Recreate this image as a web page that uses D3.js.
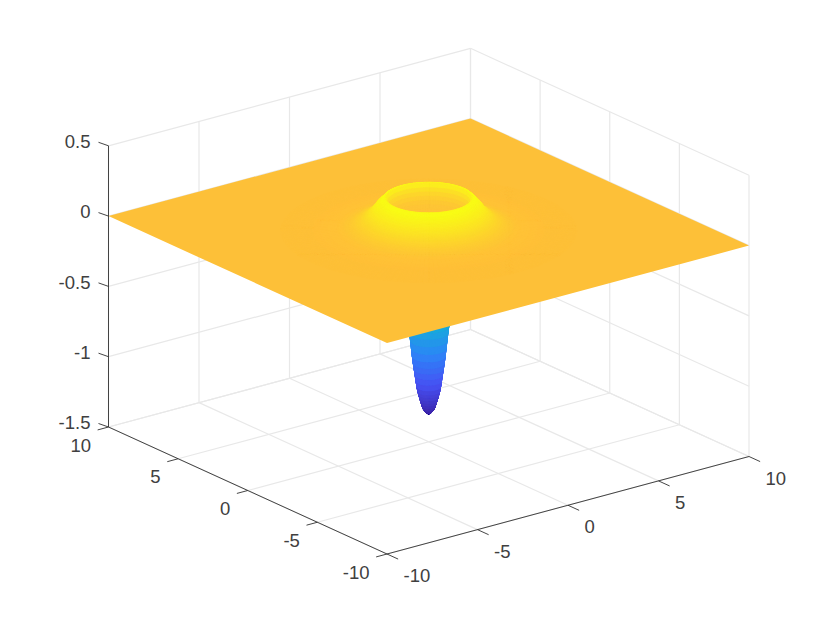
<!DOCTYPE html>
<html>
  <head>
    <script src="https://d3js.org/d3.v7.min.js"></script>
    <style>
      html, body { margin: 0; padding: 0; background: #fff; }
      text { font-family: "Liberation Sans", Arial, sans-serif; font-size: 18.5px; fill: #404040; }
    </style>
  </head>
  <body>
    <div id="chart"></div>
    <script>
      // tick values
      const xTicks = [-10, -5, 0, 5, 10];
      const yTicks = [-10, -5, 0, 5, 10];
      const zTicks = [-1.5, -1, -0.5, 0, 0.5];

      // radial profile of the surface
      const radii = [0, 0.1, 0.25, 0.38, 0.5, 0.7, 0.85, 1, 1.2, 1.4, 1.55, 1.7, 1.8, 1.88, 1.95, 2.05, 2.3, 2.6, 3, 3.5, 4, 5, 6.5];
      const heights = [-1.3, -1.295, -1.265, -1.2, -1.13, -0.92, -0.71, -0.55, -0.34, -0.14, 0, 0.11, 0.18, 0.235, 0.235, 0.22, 0.18, 0.12, 0.07, 0.035, 0.018, 0.005, 0];
      // height the colour is read at, the inside of the rim is more orange than its height gives
      const shades = [-1.3, -1.295, -1.265, -1.2, -1.13, -0.92, -0.71, -0.55, -0.34, -0.14, 0, 0.035, 0.1, 0.2, 0.235, 0.235, 0.2, 0.14, 0.08, 0.035, 0.015, 0.004, 0];

      // colormap
      const colorStops = [0, 0.15, 0.3, 0.45, 0.6, 0.74, 0.85, 1];
      const colorValues = ["#3e26a8", "#4752f4", "#2d87f7", "#12b1d6", "#37c897", "#abc739", "#ffc038", "#f9fb15"];

      const width = 830;
      const height = 623;

      // the axes box is an orthographic projection, each data axis gets its own pixel scales
      const xToPx = d3.scaleLinear().domain([-10, 10]).range([0, 362]);
      const xToPy = d3.scaleLinear().domain([-10, 10]).range([0, -97.5]);
      const yToPx = d3.scaleLinear().domain([-10, 10]).range([0, -278.5]);
      const yToPy = d3.scaleLinear().domain([-10, 10]).range([0, -127]);
      const zToPy = d3.scaleLinear().domain([-1.5, 0.5]).range([0, -281.2]);
      const originX = 387;
      const originY = 554;

      function project(x, y, z) {
        return [originX + xToPx(x) + yToPx(y), originY + xToPy(x) + yToPy(y) + zToPy(z)];
      }

      // bigger is further away from the camera
      function depth(x, y, z) {
        return (13.9 * x + 18.1 * y) * 0.937 - 150 * z * 0.349;
      }

      const profile = d3.scaleLinear().domain(radii).range(heights).clamp(true);
      const shadeProfile = d3.scaleLinear().domain(radii).range(shades).clamp(true);
      const colorT = d3.scaleLinear().domain([-1.3, 0.235]).range([0, 1]).clamp(true);
      const colormap = d3.scaleLinear().domain(colorStops).range(colorValues).interpolate(d3.interpolateRgb);
      const surfaceColor = z => colormap(colorT(z));

      const svg = d3.create("svg")
        .attr("width", width)
        .attr("height", height)
        .style("display", "block");

      const line = d3.line();

      // grid on the floor and the two back walls
      const gridLines = [];
      xTicks.forEach(x => {
        gridLines.push([project(x, -10, -1.5), project(x, 10, -1.5)]);
        gridLines.push([project(x, 10, -1.5), project(x, 10, 0.5)]);
      });
      yTicks.forEach(y => {
        gridLines.push([project(-10, y, -1.5), project(10, y, -1.5)]);
        gridLines.push([project(10, y, -1.5), project(10, y, 0.5)]);
      });
      zTicks.forEach(z => {
        gridLines.push([project(-10, 10, z), project(10, 10, z)]);
        gridLines.push([project(10, 10, z), project(10, -10, z)]);
      });

      svg.append("g")
        .selectAll("path")
        .data(gridLines)
        .join("path")
        .attr("d", d => line(d))
        .attr("fill", "none")
        .attr("stroke", "#e8e8e8")
        .attr("stroke-width", 1.2);

      // polar mesh of the part that differs from the flat plane
      const nAngles = 144;
      const radiusStep = 0.04;
      const planeRadius = 1.56; // profile crosses z = 0 here
      const ringCount = Math.round(6.48 / radiusStep);
      const quads = [];
      d3.range(ringCount).forEach(i => {
        const r0 = i * radiusStep;
        const r1 = (i + 1) * radiusStep;
        d3.range(nAngles).forEach(j => {
          const a0 = j / nAngles * 2 * Math.PI;
          const a1 = (j + 1) / nAngles * 2 * Math.PI;
          const z0 = profile(r0);
          const z1 = profile(r1);
          const zMid = profile((r0 + r1) / 2);
          const aMid = (a0 + a1) / 2;
          const rMid = (r0 + r1) / 2;
          quads.push({
            inner: r1 <= planeRadius,
            depth: depth(rMid * Math.cos(aMid), rMid * Math.sin(aMid), zMid),
            color: surfaceColor(shadeProfile(rMid)),
            points: [
              project(r0 * Math.cos(a0), r0 * Math.sin(a0), z0),
              project(r1 * Math.cos(a0), r1 * Math.sin(a0), z1),
              project(r1 * Math.cos(a1), r1 * Math.sin(a1), z1),
              project(r0 * Math.cos(a1), r0 * Math.sin(a1), z0)
            ]
          });
        });
      });

      function drawQuads(list) {
        const sorted = list.slice().sort((a, b) => b.depth - a.depth);
        svg.append("g")
          .selectAll("path")
          .data(sorted)
          .join("path")
          .attr("d", d => line(d.points) + "Z")
          .attr("fill", d => d.color)
          .attr("stroke", d => d.color)
          .attr("stroke-width", 0.6);
      }

      // well under the plane first
      drawQuads(quads.filter(d => d.inner));

      // flat plane with a hole where the well is
      const hole = d3.range(nAngles).map(j => {
        const a = j / nAngles * 2 * Math.PI;
        return project(planeRadius * Math.cos(a), planeRadius * Math.sin(a), 0);
      });
      const square = [project(-10, -10, 0), project(10, -10, 0), project(10, 10, 0), project(-10, 10, 0)];
      svg.append("path")
        .attr("d", line(square) + "Z" + line(hole) + "Z")
        .attr("fill-rule", "evenodd")
        .attr("fill", surfaceColor(0));

      // ring above the plane
      drawQuads(quads.filter(d => !d.inner));

      // axis lines and ticks
      const axisColor = "#303030";
      const axisLines = [
        [project(-10, 10, -1.5), project(-10, 10, 0.5)],
        [project(-10, 10, -1.5), project(-10, -10, -1.5)],
        [project(-10, -10, -1.5), project(10, -10, -1.5)]
      ];
      const tickLines = [];
      xTicks.forEach(x => tickLines.push([project(x, -10, -1.5), project(x, -10.8, -1.5)]));
      yTicks.forEach(y => tickLines.push([project(-10, y, -1.5), project(-10.6, y, -1.5)]));
      zTicks.forEach(z => {
        const p = project(-10, 10, z);
        tickLines.push([p, [p[0] - 10, p[1] - 3.5]]);
      });

      svg.append("g")
        .selectAll("path")
        .data(axisLines.concat(tickLines))
        .join("path")
        .attr("d", d => line(d))
        .attr("fill", "none")
        .attr("stroke", axisColor)
        .attr("stroke-width", 0.9);

      // tick labels
      svg.append("g")
        .selectAll("text")
        .data(xTicks)
        .join("text")
        .attr("x", d => project(d, -10, -1.5)[0] + 16.5)
        .attr("y", d => project(d, -10, -1.5)[1] + 21.5)
        .attr("dy", "0.36em")
        .text(d => d);

      svg.append("g")
        .selectAll("text")
        .data(yTicks)
        .join("text")
        .attr("x", d => project(-10, d, -1.5)[0] - 17.5)
        .attr("y", d => project(-10, d, -1.5)[1] + 18)
        .attr("dy", "0.36em")
        .attr("text-anchor", "end")
        .text(d => d);

      svg.append("g")
        .selectAll("text")
        .data(zTicks)
        .join("text")
        .attr("x", d => project(-10, 10, d)[0] - 18)
        .attr("y", d => project(-10, 10, d)[1] - 4.5)
        .attr("dy", "0.36em")
        .attr("text-anchor", "end")
        .text(d => d);

      document.getElementById("chart").appendChild(svg.node());
    </script>
  </body>
</html>
